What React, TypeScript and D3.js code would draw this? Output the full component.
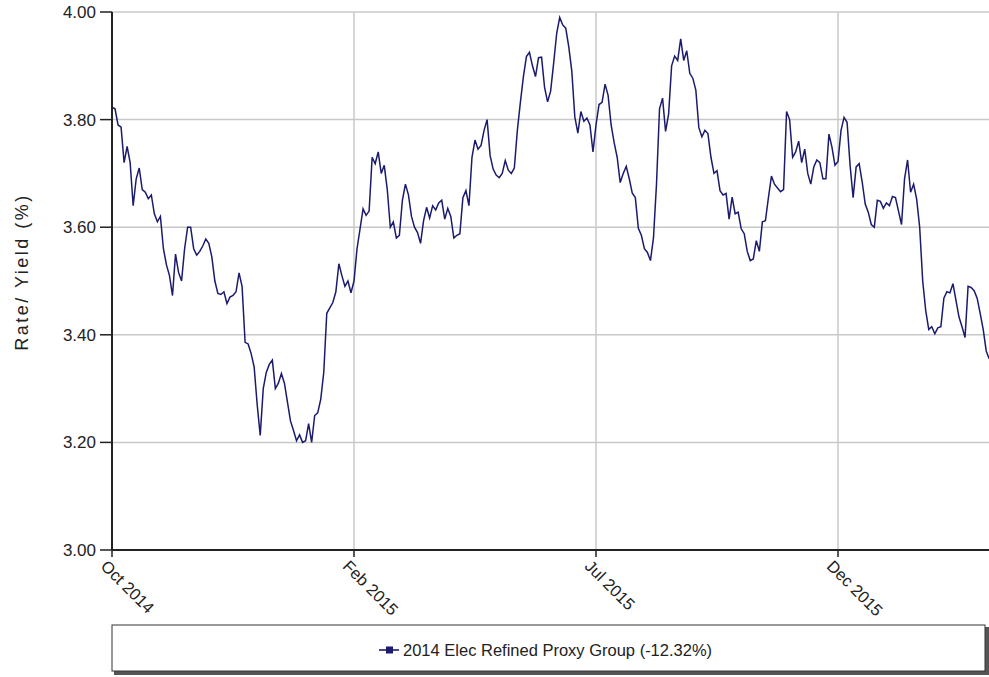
import React from "react";
import * as d3 from "d3";

const seriesName = "2014 Elec Refined Proxy Group (-12.32%)";
const yTicks = [3.0, 3.2, 3.4, 3.6, 3.8, 4.0];
const xTickIdx = [0, 80, 160, 240];
const xTickLabels = ["Oct 2014", "Feb 2015", "Jul 2015", "Dec 2015"];

const values: number[] = [
  3.823, 3.82, 3.79, 3.786, 3.72, 3.75, 3.72, 3.64, 3.69, 3.71,
  3.67, 3.665, 3.653, 3.66, 3.625, 3.61, 3.62, 3.56, 3.53, 3.51,
  3.473, 3.55, 3.516, 3.5, 3.56, 3.6, 3.6, 3.56, 3.548, 3.555,
  3.565, 3.578, 3.57, 3.545, 3.5, 3.477, 3.475, 3.48, 3.458, 3.47,
  3.473, 3.48, 3.515, 3.49, 3.386, 3.383, 3.365, 3.34, 3.27, 3.213,
  3.3, 3.33, 3.345, 3.353, 3.3, 3.31, 3.328, 3.31, 3.275, 3.24,
  3.222, 3.203, 3.214, 3.2, 3.203, 3.235, 3.2, 3.25, 3.255, 3.28,
  3.33, 3.44, 3.45, 3.46, 3.48, 3.532, 3.51, 3.49, 3.5, 3.478,
  3.5, 3.56, 3.597, 3.634, 3.622, 3.63, 3.73, 3.718, 3.74, 3.7,
  3.715, 3.67, 3.6, 3.61, 3.58, 3.585, 3.65, 3.68, 3.66, 3.62,
  3.6, 3.59, 3.57, 3.612, 3.637, 3.617, 3.64, 3.632, 3.645, 3.65,
  3.615, 3.635, 3.62, 3.58, 3.585, 3.588, 3.655, 3.668, 3.64, 3.73,
  3.762, 3.745, 3.752, 3.78, 3.8, 3.733, 3.708, 3.697, 3.692, 3.7,
  3.724, 3.706, 3.7, 3.71, 3.78, 3.832, 3.88, 3.917, 3.925, 3.9,
  3.88, 3.915, 3.916, 3.86, 3.833, 3.853, 3.905, 3.96, 3.99, 3.976,
  3.97, 3.935, 3.89, 3.805, 3.775, 3.815, 3.797, 3.803, 3.79, 3.74,
  3.79, 3.828, 3.832, 3.866, 3.845, 3.79, 3.757, 3.73, 3.683, 3.7,
  3.713, 3.69, 3.663, 3.655, 3.598, 3.585, 3.56, 3.553, 3.538, 3.58,
  3.68, 3.82, 3.84, 3.778, 3.81, 3.9, 3.918, 3.91, 3.95, 3.91,
  3.928, 3.886, 3.877, 3.855, 3.785, 3.768, 3.78, 3.774, 3.73, 3.7,
  3.705, 3.668, 3.66, 3.663, 3.615, 3.656, 3.625, 3.628, 3.597, 3.588,
  3.555, 3.538, 3.541, 3.575, 3.555, 3.61, 3.612, 3.655, 3.695, 3.68,
  3.673, 3.666, 3.67, 3.815, 3.8, 3.73, 3.74, 3.76, 3.72, 3.745,
  3.7, 3.68, 3.712, 3.725, 3.72, 3.69, 3.69, 3.773, 3.749, 3.715,
  3.722, 3.78, 3.804, 3.795, 3.715, 3.655, 3.712, 3.718, 3.684, 3.643,
  3.628, 3.605, 3.6, 3.65, 3.648, 3.635, 3.645, 3.64, 3.657, 3.655,
  3.63, 3.605, 3.69, 3.725, 3.665, 3.68, 3.652, 3.6, 3.5, 3.445,
  3.41, 3.415, 3.402, 3.413, 3.415, 3.468, 3.48, 3.478, 3.495, 3.464,
  3.433, 3.415, 3.395, 3.49, 3.488, 3.482, 3.468, 3.44, 3.41, 3.37,
  3.355,
];

const W = 989;
const H = 677;
const left = 112;
const top = 12;
const bottom = 550;
const right = 989.25;

const FONT = "'Liberation Sans', Arial, sans-serif";
const LINE_COLOR = "#1b1b6e";

export default function App() {
  const x = d3.scaleLinear().domain([0, values.length - 1]).range([left, right]);
  const y = d3.scaleLinear().domain([3, 4]).range([bottom, top]);
  const line = d3
    .line<number>()
    .x((_, i) => x(i))
    .y((d) => y(d))
    .curve(d3.curveLinear);
  const path = line(values) || "";

  const legendY = 650;
  const legendTextX = 403;

  return (
    <svg
      width={W}
      height={H}
      style={{ position: "absolute", left: 0, top: 0, background: "#fff" }}
      fontFamily={FONT}
    >
      <rect x={0} y={0} width={W} height={H} fill="#fff" />
      {/* horizontal grid */}
      {yTicks.map((t) => (
        <line key={"gy" + t} x1={left} x2={W} y1={y(t)} y2={y(t)} stroke="#c8c8c8" strokeWidth={1.5} />
      ))}
      {/* vertical grid */}
      {xTickIdx.slice(1).map((t) => (
        <line key={"gx" + t} x1={x(t)} x2={x(t)} y1={top} y2={bottom} stroke="#c8c8c8" strokeWidth={1.5} />
      ))}
      {/* series */}
      <path d={path} fill="none" stroke={LINE_COLOR} strokeWidth={1.5} strokeLinejoin="miter" />
      {/* axes */}
      <line x1={left} x2={left} y1={top} y2={bottom} stroke="#222" strokeWidth={2} />
      <line x1={left} x2={W} y1={bottom} y2={bottom} stroke="#222" strokeWidth={2} />
      {yTicks.map((t) => (
        <g key={"yt" + t}>
          <line x1={left - 12} x2={left} y1={y(t)} y2={y(t)} stroke="#222" strokeWidth={1.5} />
          <text x={left - 16} y={y(t)} dy="0.35em" textAnchor="end" fontSize={17} fill="#222">
            {t.toFixed(2)}
          </text>
        </g>
      ))}
      {xTickIdx.map((t, i) => (
        <g key={"xt" + t}>
          <line x1={x(t)} x2={x(t)} y1={bottom} y2={bottom + 7} stroke="#222" strokeWidth={1.5} />
          <text
            transform={`translate(${x(t) - 4},${bottom + 9}) rotate(45)`}
            fontSize={16.5}
            fill="#222"
            dy="0.7em"
          >
            {xTickLabels[i]}
          </text>
        </g>
      ))}
      <text
        transform={`translate(28,${272}) rotate(-90)`}
        textAnchor="middle"
        fontSize={18}
        letterSpacing={2.5}
        fill="#222"
      >
        Rate/ Yield (%)
      </text>
      {/* legend */}
      <rect x={114} y={627} width={875} height={48} fill="#555" />
      <rect x={112} y={625} width={873} height={46} fill="#fff" stroke="#333" strokeWidth={1} />
      <line x1={legendTextX - 24} x2={legendTextX - 4} y1={legendY} y2={legendY} stroke={LINE_COLOR} strokeWidth={1.6} />
      <rect x={legendTextX - 17} y={legendY - 3.5} width={7} height={7} fill={LINE_COLOR} />
      <text x={legendTextX} y={legendY} dy="0.35em" fontSize={16.5} fill="#222">
        {seriesName}
      </text>
    </svg>
  );
}
